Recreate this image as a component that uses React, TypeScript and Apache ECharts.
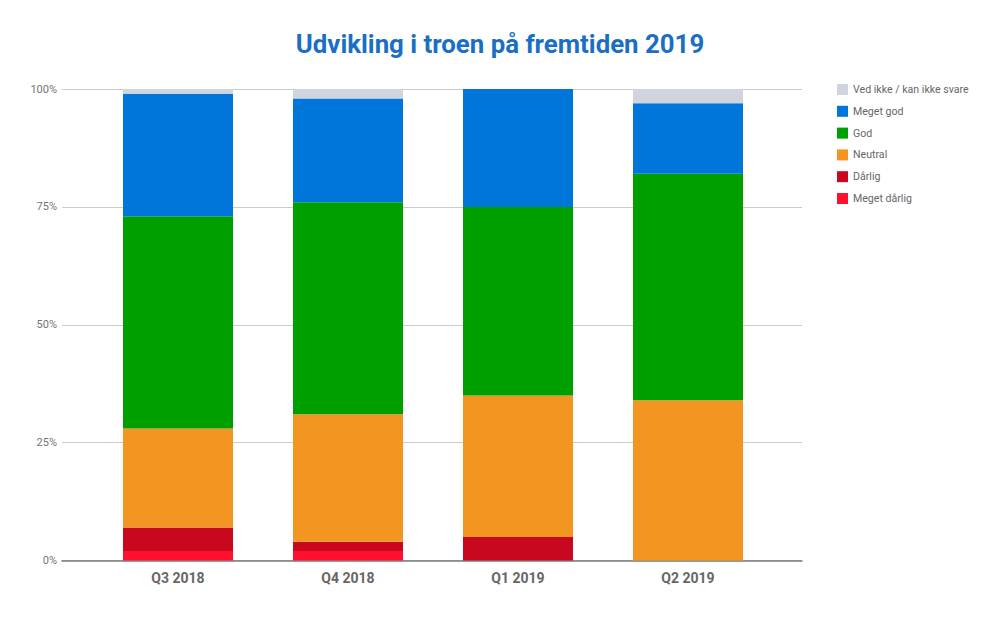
import React, { useEffect, useRef } from "react";
import * as echarts from "echarts";

const categories = ["Q3 2018", "Q4 2018", "Q1 2019", "Q2 2019"];
const megetDaarlig = [2, 2, 0, 0];
const daarlig = [5, 2, 5, 0];
const neutral = [21, 27, 30, 34];
const god = [45, 45, 40, 48];
const megetGod = [26, 22, 25, 15];
const vedIkke = [1, 2, 0, 3];
const yTicks = [0, 25, 50, 75, 100];

const seriesDefs = [
  { name: "Meget dårlig", data: megetDaarlig, color: "#ff102e" },
  { name: "Dårlig", data: daarlig, color: "#c8081f" },
  { name: "Neutral", data: neutral, color: "#f39621" },
  { name: "God", data: god, color: "#009f00" },
  { name: "Meget god", data: megetGod, color: "#0075da" },
  { name: "Ved ikke / kan ikke svare", data: vedIkke, color: "#d0d4dc" },
];

export default function App() {
  const ref = useRef<HTMLDivElement>(null);
  useEffect(() => {
    if (!ref.current) return;
    const chart = echarts.init(ref.current, undefined, { renderer: "svg" });
    const font = "Roboto, 'Noto Sans', sans-serif";
    chart.setOption({
      animation: false,
      backgroundColor: "#ffffff",
      textStyle: { fontFamily: font },
      title: {
        text: "Udvikling i troen på fremtiden 2019",
        left: "center",
        top: 26,
        textStyle: { color: "#1a6fc4", fontSize: 25.8, fontWeight: "bold", fontFamily: font },
      },
      legend: {
        orient: "vertical",
        left: 832,
        top: 79,
        itemWidth: 11,
        itemHeight: 11,
        itemGap: 10.8,
        icon: "rect",
        textStyle: { fontSize: 10.6, color: "#666666", fontFamily: font },
        data: seriesDefs.map((s) => s.name).reverse(),
      },
      grid: [
        { left: 62, right: 198, top: 89, bottom: 58.5 },
        { left: 93, right: 227, top: 89, bottom: 58.5 },
      ],
      xAxis: [
        {
          type: "category",
          gridIndex: 0,
          data: categories,
          axisLine: { show: true, lineStyle: { color: "#7a7a7a", width: 1.5 } },
          axisTick: { show: false },
          axisLabel: { show: false },
        },
        {
          type: "category",
          gridIndex: 1,
          data: categories,
          axisLine: { show: false },
          axisTick: { show: false },
          axisLabel: {
            margin: 10,
            fontSize: 14,
            fontWeight: "bold",
            color: "#666666",
            fontFamily: font,
          },
        },
      ],
      yAxis: [
        {
          type: "value",
          gridIndex: 0,
          min: yTicks[0],
          max: yTicks[yTicks.length - 1],
          interval: 25,
          axisLine: { show: false },
          axisTick: { show: false },
          axisLabel: { formatter: "{value}%", fontSize: 11, color: "#757575", margin: 5, fontFamily: font },
          splitLine: { lineStyle: { color: "#cccccc", width: 1 } },
        },
        {
          type: "value",
          gridIndex: 1,
          min: 0,
          max: 100,
          show: false,
          splitLine: { show: false },
        },
      ],
      series: seriesDefs.map((s) => ({
        name: s.name,
        type: "bar",
        stack: "total",
        xAxisIndex: 1,
        yAxisIndex: 1,
        barWidth: 110,
        data: s.data,
        itemStyle: { color: s.color },
        emphasis: { disabled: true },
      })),
    });
    return () => chart.dispose();
  }, []);
  return (
    <div
      ref={ref}
      style={{ position: "fixed", left: 0, top: 0, width: 1000, height: 619, background: "#fff" }}
    />
  );
}
